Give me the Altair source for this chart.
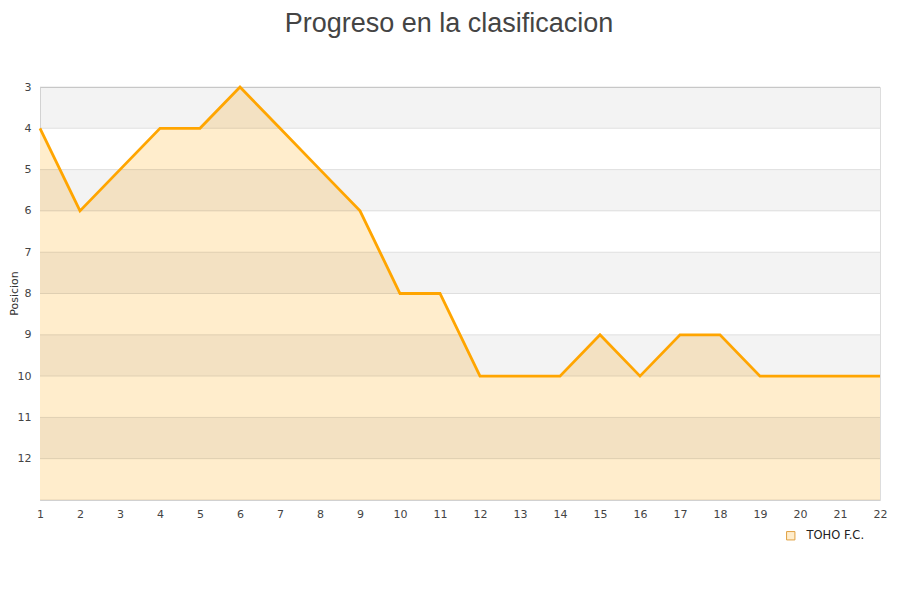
import pandas as pd
import altair as alt

jornadas = list(range(1, 23))
posiciones = [4, 6, 5, 4, 4, 3, 4, 5, 6, 8, 8, 10, 10, 10, 9, 10, 9, 9, 10, 10, 10, 10]
equipo = "TOHO F.C."
band_starts = [3, 5, 7, 9, 11]
y_ticks = list(range(3, 14))

data = pd.DataFrame({"jornada": jornadas, "posicion": posiciones, "equipo": equipo})
bands = pd.DataFrame({"y": band_starts, "y2": [b + 1 for b in band_starts]})
grid = pd.DataFrame({"y": y_ticks})

x_scale = alt.Scale(domain=[1, 22], nice=False)
x_axis = alt.Axis(values=jornadas, title=None, grid=False, ticks=False,
                  labelPadding=8, domainColor="#dddddd",
                  labelOverlap=False, labelFlush=False)
y_scale = alt.Scale(domain=[3, 13], reverse=True, nice=False)
y_axis = alt.Axis(values=y_ticks, title="Posicion", ticks=False, grid=False,
                  labelExpr="datum.value > 12 ? '' : datum.label",
                  labelPadding=9, domain=False, titleX=-21, titleY=206)

area = alt.Chart(data).mark_area(clip=True).encode(
    x=alt.X("jornada:Q", scale=x_scale, axis=x_axis),
    y=alt.Y("posicion:Q", scale=y_scale, axis=y_axis),
    y2=alt.datum(13),
    fill=alt.Fill("equipo:N", scale=alt.Scale(range=["#ffedcc"]),
                  legend=alt.Legend(title=None, orient="none", legendX=745, legendY=443,
                                    symbolType="square", symbolSize=70,
                                    symbolStrokeColor="#e0a040", symbolStrokeWidth=1,
                                    labelOffset=10, labelFontSize=11.5,
                                    labelColor="#222222", labelFont="DejaVu Sans")),
)

band_layer = alt.Chart(bands).mark_rect(color="#000000", opacity=0.047).encode(
    y=alt.Y("y:Q", scale=y_scale, axis=y_axis),
    y2="y2:Q",
)

# grid lines drawn as rules so they sit above the area but below the line
grid_layer = alt.Chart(grid).mark_rule(color="#000000", opacity=0.1, strokeWidth=1).encode(
    y=alt.Y("y:Q", scale=y_scale, axis=y_axis),
)

line = alt.Chart(data).mark_line(color="#ffa500", strokeWidth=2.8).encode(
    x=alt.X("jornada:Q", scale=x_scale, axis=x_axis),
    y=alt.Y("posicion:Q", scale=y_scale, axis=y_axis),
)

chart = alt.layer(area, band_layer, grid_layer, line).properties(
    width=840,
    height=413,
    autosize=alt.AutoSizeParams(type="none"),
    padding={"left": 32, "top": 79, "right": 12, "bottom": 84},
    title=alt.TitleParams("Progreso en la clasificacion", font="Liberation Sans",
                          fontSize=27, fontWeight="normal", color="#444444",
                          offset=43, dx=-11),
).configure_view(stroke="#dddddd").configure_axis(
    labelFont="DejaVu Sans", labelFontSize=11, labelColor="#444444",
    titleFont="DejaVu Sans", titleFontSize=11, titleFontWeight="normal", titleColor="#333333",
).configure_axisX(labelOverlap=False)

chart.save("out.html", embed_options={"renderer": "svg", "actions": False})
